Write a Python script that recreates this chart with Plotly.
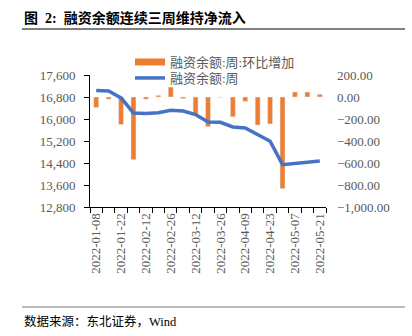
import plotly.graph_objects as go

dates = ["2022-01-08", "2022-01-15", "2022-01-22", "2022-01-29", "2022-02-12",
         "2022-02-19", "2022-02-26", "2022-03-05", "2022-03-12", "2022-03-19",
         "2022-03-26", "2022-04-02", "2022-04-09", "2022-04-16", "2022-04-23",
         "2022-04-30", "2022-05-07", "2022-05-14", "2022-05-21"]
weekly_change = [-95, -20, -250, -570, -20, 15, 90, -15, -158, -270,
                 -3, -180, -40, -255, -245, -833, 45, 45, 25]
balance = [17040, 17020, 16765, 16220, 16196, 16230, 16316, 16290, 16160, 15892,
           15880, 15710, 15675, 15420, 15190, 14340, 14390, 14440, 14475]
bar_name = "融资余额:周:环比增加"
line_name = "融资余额:周"

xs = list(range(len(dates)))
FONT = "Liberation Serif, Noto Sans CJK SC"
GRAY = "#595959"
ORANGE = "#ED7D31"
BLUE = "#4472C4"

fig = go.Figure()
fig.add_trace(go.Bar(x=xs, y=weekly_change, name=bar_name, marker_color=ORANGE,
                     width=0.4, yaxis="y", showlegend=False))
# legend entry drawn as a wide rectangle like the reference
fig.add_trace(go.Scatter(x=[None], y=[None], name=bar_name, mode="lines",
                         line=dict(color=ORANGE, width=7), yaxis="y",
                         legend="legend"))
fig.add_trace(go.Scatter(x=xs, y=balance, name=line_name, mode="lines",
                         line=dict(color=BLUE, width=3.5), yaxis="y2",
                         legend="legend2"))

L, R, T, B = 90, 86, 75, 129
W, H = 412, 336
pw = W - L - R
ph = H - T - B

def px(xp):
    return (xp - L) / pw

def py(yp):
    return (H - B - yp) / ph

leg_common = dict(xanchor="left", yanchor="top", bgcolor="rgba(0,0,0,0)",
                  font=dict(size=13, color=GRAY))

fig.update_layout(
    width=W, height=H, margin=dict(l=L, r=R, t=T, b=B),
    paper_bgcolor="white", plot_bgcolor="white",
    font=dict(family=FONT, color=GRAY, size=13),
    showlegend=True,
    legend=dict(x=px(130), y=py(47), **leg_common),
    legend2=dict(x=px(130), y=py(63), **leg_common),
    xaxis=dict(range=[-0.5, len(dates) - 0.5], tickmode="array",
               tickvals=xs[::2], ticktext=dates[::2], tickangle=-90,
               ticks="", showline=True, linecolor="black", linewidth=1,
               showgrid=False, zeroline=False,
               tickfont=dict(family=FONT, size=13, color=GRAY),
               minor=dict(tick0=-0.5, dtick=1, ticks="outside", ticklen=5,
                          tickcolor="black", tickwidth=1, showgrid=False)),
    yaxis=dict(range=[-1000, 200], dtick=200, side="right", tickformat=",.2f",
               showgrid=False, zeroline=False, showline=False, ticks="",
               ticklabelstandoff=10,
               tickfont=dict(family=FONT, size=13, color=GRAY)),
    yaxis2=dict(range=[12800, 17600], dtick=800, side="left", overlaying="y",
                tickformat=",d", showgrid=False, zeroline=False, showline=True,
                linecolor="black", linewidth=1, ticks="outside", ticklen=5,
                tickcolor="black", ticklabelstandoff=6,
                tickfont=dict(family=FONT, size=13, color=GRAY)),
)

fig.add_annotation(text="<b>图  2:  融资余额连续三周维持净流入</b>", xref="paper", yref="paper",
                   x=px(22), y=py(18), xanchor="left", yanchor="middle",
                   showarrow=False, font=dict(family=FONT, size=14, color="black"))
fig.add_annotation(text="数据来源：东北证券，Wind", xref="paper", yref="paper",
                   x=px(22), y=py(321), xanchor="left", yanchor="middle",
                   showarrow=False, font=dict(family=FONT, size=12.5, color="black"))
fig.add_shape(type="line", xref="paper", yref="paper", x0=px(22), x1=px(405),
              y0=py(29), y1=py(29), line=dict(color="black", width=1.2))
fig.add_shape(type="line", xref="paper", yref="paper", x0=px(22), x1=px(405),
              y0=py(307), y1=py(307), line=dict(color="#777777", width=1))

fig.write_html("out.html")
